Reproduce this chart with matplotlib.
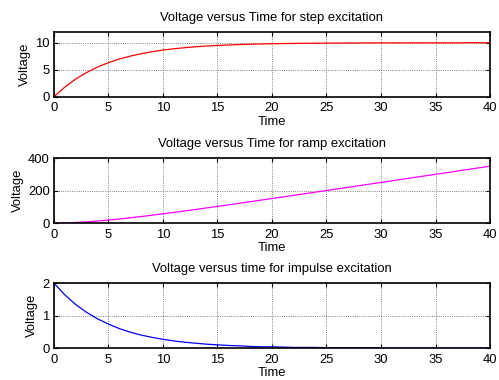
import numpy as np
import matplotlib.pyplot as plt

plt.rcParams['font.family'] = ['Liberation Sans', 'DejaVu Sans']
plt.rcParams['font.size'] = 9.4

# time axis, seconds
t = list(range(0, 41))

# response to a unit step
v_step = [0, 1.81, 3.30, 4.51, 5.51, 6.32, 6.99, 7.53, 7.98, 8.35,
          8.65, 8.89, 9.09, 9.26, 9.39, 9.50, 9.59, 9.67, 9.73, 9.78,
          9.82, 9.85, 9.88, 9.90, 9.92, 9.93, 9.94, 9.95, 9.96, 9.97,
          9.98, 9.98, 9.98, 9.99, 9.99, 9.99, 9.99, 9.99, 10.0, 10.0, 10.0]

# response to a ramp
v_ramp = [0, 0.9, 3.5, 7.4, 12.5, 18.4, 25.1, 32.3, 40.1, 48.3,
          56.8, 65.5, 74.5, 83.7, 93.0, 102.5, 112.0, 121.7, 131.4, 141.1,
          150.9, 160.7, 170.6, 180.5, 190.4, 200.3, 210.3, 220.2, 230.2, 240.2,
          250.1, 260.1, 270.1, 280.1, 290.1, 300.0, 310.0, 320.0, 330.0, 340.0, 350.0]

# response to an impulse
v_imp = [2.0, 1.64, 1.34, 1.10, 0.90, 0.74, 0.60, 0.49, 0.40, 0.33,
         0.27, 0.22, 0.18, 0.15, 0.12, 0.10, 0.08, 0.07, 0.05, 0.04,
         0.04, 0.03, 0.02, 0.02, 0.02, 0.01, 0.01, 0.01, 0.01, 0.01,
         0.0, 0.0, 0.0, 0.0, 0.0, 0.0, 0.0, 0.0, 0.0, 0.0, 0.0]

fig = plt.figure(figsize=(4.99, 3.8), dpi=100)

panels = [
    (0.745, v_step, '#ff0000', 'Voltage versus Time for step excitation', (0, 12), [0, 5, 10]),
    (0.413, v_ramp, '#ff00ff', 'Voltage versus Time for ramp excitation', (0, 400), [0, 200, 400]),
    (0.084, v_imp, '#0000ff', 'Voltage versus time for impulse excitation', (0, 2), [0, 1, 2]),
]

for bottom, v, c, title, ylim, yt in panels:
    ax = fig.add_axes([0.108, bottom, 0.874, 0.171])
    ax.plot(t, v, color=c, lw=0.9)
    ax.set_xlim(0, 40)
    ax.set_ylim(*ylim)
    ax.set_xticks(range(0, 41, 5))
    ax.set_yticks(yt)
    ax.grid(True, linestyle=':', color='0.35', lw=0.6)
    ax.tick_params(direction='in', top=True, right=True, length=3)
    ax.tick_params(axis='x', pad=4)
    ax.tick_params(axis='y', pad=3)
    for s in ax.spines.values():
        s.set_linewidth(1.2)
    ax.set_title(title, fontsize=9.4, pad=8)
    ax.set_xlabel('Time', labelpad=1)
    ax.set_ylabel('Voltage', labelpad=3)

fig.savefig('out.png', dpi=100)
